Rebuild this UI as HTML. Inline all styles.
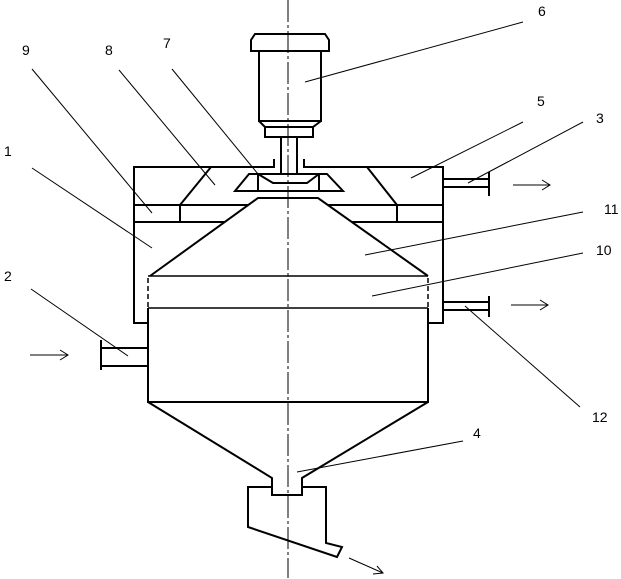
<!DOCTYPE html>
<html><head><meta charset="utf-8"><style>body{margin:0;background:#fff}svg{display:block}text{font-family:"Liberation Sans",sans-serif;font-size:14px;fill:#000}</style></head>
<body>
<svg width="621" height="579" viewBox="0 0 621 579" xmlns="http://www.w3.org/2000/svg">
<g fill="none" stroke="#000" stroke-width="2">
<path d="M255,34 L325,34 L329,40 L329,51 L251,51 L251,40 Z"/>
<path d="M259,51 L259,121 L321,121 L321,51"/>
<path d="M259,121 L265,127 L313,127 L321,121"/>
<rect x="265" y="127" width="48" height="10"/>
<path d="M281,137 L281,174 M297,137 L297,174"/>
<path d="M274,159 L274,167 L134,167 L134,323 L148,323"/>
<path d="M304,159 L304,167 L443,167 L443,323 L428,323"/>
<path d="M211,167 L180,205 L180,222 M367,167 L397,205 L397,222"/>
<path d="M134,205 L248,205 M328,205 L443,205 M134,222 L225,222 M352,222 L443,222"/>
<path d="M235,191 L343,191 L327,174 L249,174 Z"/>
<path d="M258,174 L273,183 L307,183 L319,174 M258,174 L258,191 M319,174 L319,191"/>
<path d="M150,276 L258,198 L318,198 L428,276"/>
<path d="M148,276 L428,276" stroke-width="1.5"/>
<path d="M148,308 L428,308" stroke-width="1.5"/>
<path d="M148,278 L148,308 M428,278 L428,308" stroke-width="1.5" stroke-dasharray="5,3"/>
<path d="M148,308 L148,402 L428,402 L428,308"/>
<path d="M148,402 L272,478 L272,495 L302,495 L302,478 L428,402"/>
<path d="M272,487 L248,487 L248,527 L337,557 L342,547 L326,543 L326,487 L302,487"/>
<path d="M101,348 L148,348 M101,366 L148,366 M101,340 L101,370"/>
<path d="M443,302 L489,302 M443,310 L489,310 M489,296 L489,317"/>
<path d="M443,179 L489,179 M443,187 L489,187 M489,172 L489,196"/>
</g>
<path d="M288,0 L288,578" stroke="#000" stroke-width="1" stroke-dasharray="22,3,3,3" fill="none"/>
<g stroke="#000" stroke-width="1" fill="none">
<path d="M523,22 L305,82"/>
<path d="M32,69 L152,213"/>
<path d="M119,70 L215,185"/>
<path d="M172,69 L258,174"/>
<path d="M32,168 L152,248"/>
<path d="M523,122 L411,178"/>
<path d="M583,122 L468,183"/>
<path d="M583,212 L365,255"/>
<path d="M583,253 L372,296"/>
<path d="M31,289 L128,356"/>
<path d="M580,407 L465,306"/>
<path d="M463,441 L297,472"/>
<path d="M30,355 L68,355 M60,350 L68,355 L60,360"/>
<path d="M513,185 L550,185 M542,180 L550,185 L542,190"/>
<path d="M511,305 L548,305 M540,300 L548,305 L540,310"/>
<path d="M349,558 L383,573 M373,574 L383,573 L377,566"/>
</g>
<text x="538" y="16">6</text>
<text x="22" y="55">9</text>
<text x="105" y="55">8</text>
<text x="163" y="48">7</text>
<text x="4" y="156">1</text>
<text x="537" y="106">5</text>
<text x="596" y="123">3</text>
<text x="604" y="214">11</text>
<text x="596" y="255">10</text>
<text x="4" y="281">2</text>
<text x="592" y="422">12</text>
<text x="473" y="438">4</text>
</svg>
</body></html>
